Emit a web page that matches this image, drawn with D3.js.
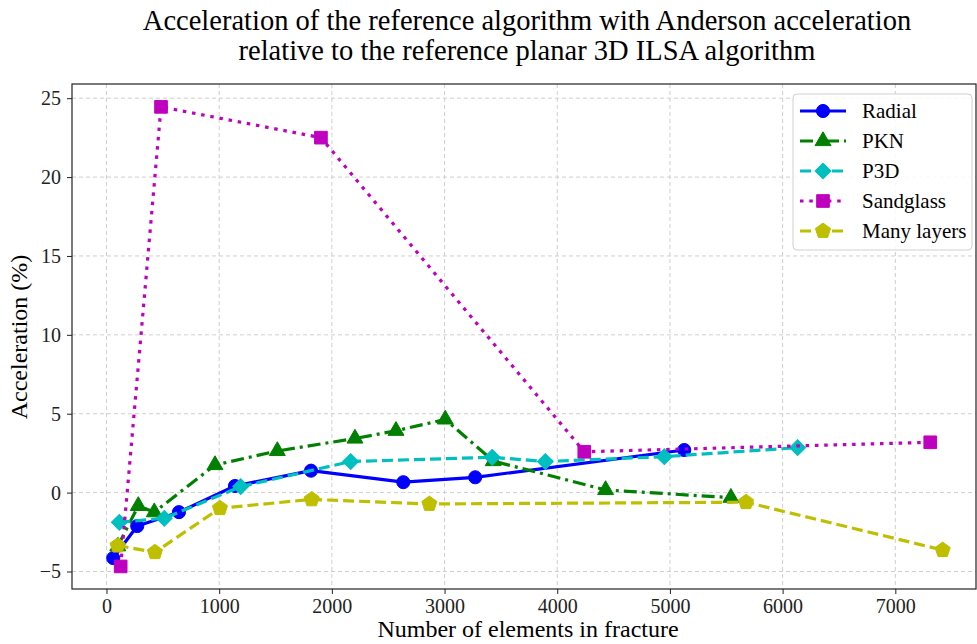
<!DOCTYPE html>
<html>
<head>
<meta charset="utf-8">
<script src="https://cdn.jsdelivr.net/npm/d3@7"></script>
<style>
  body { margin: 0; background: #fff; }
  text { font-family: "Liberation Serif", "DejaVu Serif", serif; fill: #000; }
</style>
</head>
<body>
<div class="central"></div>
<script>
// data
var radialX = [60, 273, 643, 1140, 1815, 2634, 3272, 5127];
var radialY = [-4.15, -2.12, -1.24, 0.42, 1.39, 0.66, 0.97, 2.70];

var pknX = [100, 282, 424, 963, 1516, 2205, 2569, 3006, 3432, 4429, 5541];
var pknY = [-3.4, -0.84, -1.24, 1.75, 2.64, 3.43, 3.92, 4.64, 2.0, 0.17, -0.32];

var p3dX = [114, 513, 1191, 2167, 3423, 3894, 4950, 6133];
var p3dY = [-1.88, -1.63, 0.38, 1.97, 2.24, 1.97, 2.28, 2.85];

var sandX = [126, 484, 1903, 4240, 7310];
var sandY = [-4.68, 24.45, 22.5, 2.59, 3.19];

var manyX = [99, 430, 1007, 1821, 2865, 5675, 7420];
var manyY = [-3.36, -3.78, -0.99, -0.43, -0.72, -0.61, -3.64];

var xTicks = [0, 1000, 2000, 3000, 4000, 5000, 6000, 7000];
var yTicks = [-5, 0, 5, 10, 15, 20, 25];

var titleLines = ["Acceleration of the reference algorithm with Anderson acceleration",
                  "relative to the reference planar 3D ILSA algorithm"];

var width = 977,
    height = 644;

//plot area (pixels)
var pLeft = 72, pRight = 976, pTop = 84, pBottom = 589;

//custom pentagon symbol (matplotlib "p")
var symbolPentagon = {
  draw: function(context, size) {
    var r = Math.sqrt(size / 2.378);
    for (var i = 0; i < 5; i++) {
      var a = -Math.PI / 2 + i * 2 * Math.PI / 5;
      if (i == 0) context.moveTo(r * Math.cos(a), r * Math.sin(a));
      else context.lineTo(r * Math.cos(a), r * Math.sin(a));
    }
    context.closePath();
  }
};

var series = [
  {name: "Radial", xs: radialX, ys: radialY, color: "#0000ff", dash: null, sym: d3.symbolCircle, size: 135, rot: 0},
  {name: "PKN", xs: pknX, ys: pknY, color: "#008000", dash: "13,5,3,5", sym: d3.symbolTriangle, size: 110, rot: 0},
  {name: "P3D", xs: p3dX, ys: p3dY, color: "#00bfbf", dash: "11,5", sym: d3.symbolSquare, size: 125, rot: 45},
  {name: "Sandglass", xs: sandX, ys: sandY, color: "#bf00bf", dash: "3.5,5.8", sym: d3.symbolSquare, size: 160, rot: 0},
  {name: "Many layers", xs: manyX, ys: manyY, color: "#bfbf00", dash: "11,5", sym: symbolPentagon, size: 150, rot: 0}
];

var x = d3.scaleLinear().domain([-306, 7716]).range([pLeft, pRight]);
var y = d3.scaleLinear().domain([-6.11, 25.9]).range([pBottom, pTop]);

var svg = d3.select(".central")
  .append("svg")
  .attr("width", width)
  .attr("height", height);

svg.append("defs").append("clipPath").attr("id", "clip")
  .append("rect").attr("x", pLeft).attr("y", pTop)
  .attr("width", pRight - pLeft).attr("height", pBottom - pTop);

//grid
svg.append("g").selectAll("line").data(xTicks).enter().append("line")
  .attr("x1", function(d){ return x(d); }).attr("x2", function(d){ return x(d); })
  .attr("y1", pTop).attr("y2", pBottom)
  .style("stroke", "#cfcfcf").style("stroke-width", 1).style("stroke-dasharray", "4,3");
svg.append("g").selectAll("line").data(yTicks).enter().append("line")
  .attr("y1", function(d){ return y(d); }).attr("y2", function(d){ return y(d); })
  .attr("x1", pLeft).attr("x2", pRight)
  .style("stroke", "#cfcfcf").style("stroke-width", 1).style("stroke-dasharray", "4,3");

//axes
var xAxis = d3.axisBottom(x).tickValues(xTicks).tickSize(5).tickPadding(5)
  .tickFormat(function(d){ return d; });
var yAxis = d3.axisLeft(y).tickValues(yTicks).tickSize(5).tickPadding(6)
  .tickFormat(function(d){ return d < 0 ? "\u2212" + Math.abs(d) : d; });

var gx = svg.append("g").attr("transform", "translate(0," + pBottom + ")").call(xAxis);
var gy = svg.append("g").attr("transform", "translate(" + pLeft + ",0)").call(yAxis);
[gx, gy].forEach(function(g){
  g.select(".domain").remove();
  g.selectAll("line").style("stroke", "#222").style("stroke-width", 1);
  g.selectAll("text").style("font-family", "'Liberation Serif', serif").style("font-size", "20px").style("fill", "#222");
});

//lines and markers
var plot = svg.append("g").attr("clip-path", "url(#clip)");
series.forEach(function(s){
  var pts = s.xs.map(function(v, i){ return [v, s.ys[i]]; });
  var line = d3.line().x(function(d){ return x(d[0]); }).y(function(d){ return y(d[1]); });
  plot.append("path")
    .attr("d", line(pts))
    .style("fill", "none")
    .style("stroke", s.color)
    .style("stroke-width", 3.2)
    .style("stroke-dasharray", s.dash)
    .style("stroke-linejoin", "round");
  plot.selectAll(null).data(pts).enter().append("path")
    .attr("d", d3.symbol().type(s.sym).size(s.size))
    .attr("transform", function(d){ return "translate(" + x(d[0]) + "," + y(d[1]) + ") rotate(" + s.rot + ")"; })
    .style("fill", s.color)
    .style("stroke", s.color)
    .style("stroke-width", 1);
});

//frame
svg.append("rect").attr("x", pLeft).attr("y", pTop)
  .attr("width", pRight - pLeft).attr("height", pBottom - pTop)
  .style("fill", "none").style("stroke", "#222").style("stroke-width", 1.2);

//legend
var lg = svg.append("g");
lg.append("rect").attr("x", 793).attr("y", 94).attr("width", 179).attr("height", 156)
  .attr("rx", 4).style("fill", "rgba(255,255,255,0.85)").style("stroke", "#d0d0d0");
series.forEach(function(s, i){
  var cy = 111 + i * 30;
  lg.append("line").attr("x1", 800).attr("x2", 846).attr("y1", cy).attr("y2", cy)
    .style("stroke", s.color).style("stroke-width", 3.2).style("stroke-dasharray", s.dash);
  lg.append("path").attr("d", d3.symbol().type(s.sym).size(s.size))
    .attr("transform", "translate(823," + cy + ") rotate(" + s.rot + ")")
    .style("fill", s.color).style("stroke", s.color);
  lg.append("text").attr("x", 862).attr("y", cy + 7).style("font-size", "21px").text(s.name);
});

//titles
svg.selectAll(".title").data(titleLines).enter().append("text")
  .attr("class", "title")
  .attr("x", 527).attr("y", function(d, i){ return 30 + i * 30; })
  .attr("text-anchor", "middle")
  .style("font-size", "28.5px")
  .text(function(d){ return d; });

svg.append("text").attr("x", 528).attr("y", 637).attr("text-anchor", "middle")
  .style("font-size", "24px").text("Number of elements in fracture");

svg.append("text").attr("transform", "translate(27,337) rotate(-90)").attr("text-anchor", "middle")
  .style("font-size", "24px").text("Acceleration (%)");
</script>
</body>
</html>
